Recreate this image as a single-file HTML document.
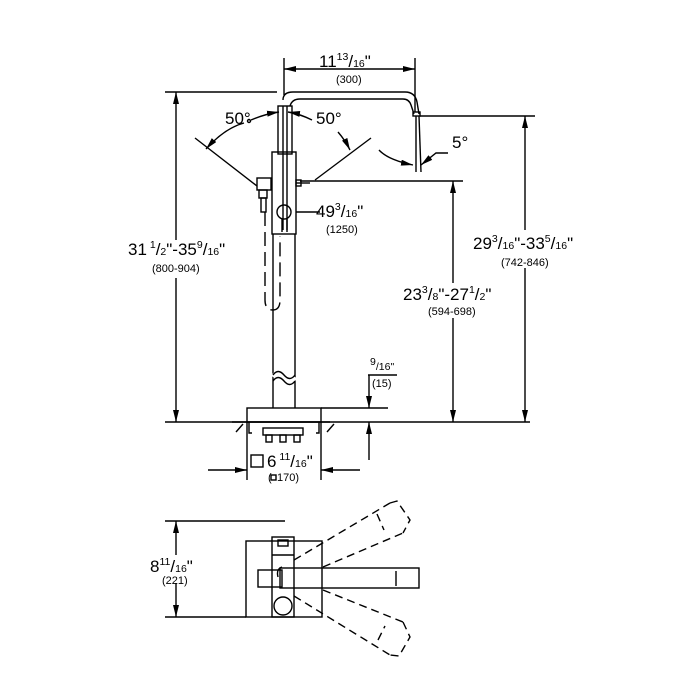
<!DOCTYPE html>
<html><head><meta charset="utf-8"><style>
html,body{margin:0;padding:0;background:#fff}
svg{display:block}
text{font-family:"Liberation Sans",sans-serif;fill:#000}
.b{font-size:17px}.s{font-size:10.5px}.p{font-size:11px}
</style></head><body>
<svg width="700" height="700" viewBox="0 0 700 700" xmlns="http://www.w3.org/2000/svg">
<defs>
<marker id="a" viewBox="0 0 12 6" refX="12" refY="3" markerWidth="12" markerHeight="6" orient="auto-start-reverse" markerUnits="userSpaceOnUse"><path d="M0,0L12,3L0,6z" fill="#000"/></marker>
</defs>
<g stroke="#000" stroke-width="1.4" fill="none">
<line x1="284" y1="58" x2="284" y2="95"/>
<line x1="415" y1="58" x2="415" y2="112"/>
<line x1="284" y1="69" x2="415" y2="69" marker-start="url(#a)" marker-end="url(#a)"/>
<path d="M283,100 Q283,92 293,92 L405,92 Q415,92 417,102 L419,114"/>
<path d="M290,106 Q292,99 300,99 L403,99 Q409,99 411,105 L414,114"/>
<rect x="413" y="112" width="7" height="4"/>
<line x1="416" y1="116" x2="416" y2="172"/>
<line x1="419" y1="116" x2="421" y2="172"/>
<line x1="165" y1="92" x2="277" y2="92"/>
<line x1="176" y1="92" x2="176" y2="240" marker-start="url(#a)"/>
<line x1="176" y1="278" x2="176" y2="422" marker-end="url(#a)"/>
<line x1="165" y1="422" x2="530" y2="422"/>
<line x1="420" y1="116" x2="535" y2="116"/>
<line x1="525" y1="116" x2="525" y2="232" marker-start="url(#a)"/>
<line x1="525" y1="268" x2="525" y2="422" marker-end="url(#a)"/>
<line x1="300" y1="181" x2="463" y2="181"/>
<line x1="453" y1="181" x2="453" y2="285" marker-start="url(#a)"/>
<line x1="453" y1="318" x2="453" y2="422" marker-end="url(#a)"/>
<line x1="195" y1="138" x2="257" y2="186"/>
<line x1="371" y1="138" x2="315" y2="180"/>
<path d="M206,149 Q225,128 244,123" marker-start="url(#a)"/>
<path d="M251,120 Q265,114 279,112" marker-end="url(#a)"/>
<path d="M312,120 Q300,114 288,112" marker-end="url(#a)"/>
<path d="M350,150 Q345,140 338,132" marker-start="url(#a)"/>
<circle cx="249" cy="121" r="1.5"/>
<path d="M379,150 Q388,160 413,165" marker-end="url(#a)"/>
<path d="M448,153 L436,153 L421,165" marker-end="url(#a)"/>
<rect x="278" y="106" width="14" height="48"/>
<line x1="283" y1="106" x2="283" y2="230"/>
<line x1="287" y1="106" x2="287" y2="230"/>
<rect x="272" y="152" width="24" height="82"/>
<line x1="273" y1="234" x2="273" y2="408"/>
<line x1="295" y1="234" x2="295" y2="408"/>
<path d="M273,377 Q278,370 284,377 T295,377" stroke="#fff" stroke-width="5"/>
<path d="M273,375 Q278,368 284,375 T295,375"/>
<path d="M273,381 Q278,374 284,381 T295,381"/>
<circle cx="284" cy="212" r="7"/>
<line x1="282" y1="219" x2="282" y2="232"/><line x1="287" y1="219" x2="287" y2="232"/>
<rect x="257" y="178" width="14" height="12"/>
<rect x="259" y="190" width="8" height="8"/>
<rect x="261" y="198" width="5" height="14"/>
<rect x="296" y="180" width="5" height="6"/>
<path d="M265,212 L265,300 Q265,310 273,310 Q280,310 280,300 L280,236" stroke-dasharray="14,6"/>
<line x1="296" y1="183" x2="310" y2="183"/>
<line x1="296" y1="212" x2="320" y2="212"/>
<rect x="247" y="408" width="74" height="14"/>
<line x1="232" y1="422" x2="330" y2="422"/>
<path d="M249,422 L249,433 L252,433"/>
<path d="M319,422 L319,433 L316,433"/>
<line x1="236" y1="432" x2="243" y2="424"/>
<line x1="327" y1="432" x2="334" y2="424"/>
<rect x="263" y="428" width="40" height="7"/>
<rect x="266" y="435" width="6" height="7"/><rect x="280" y="435" width="6" height="7"/><rect x="294" y="435" width="6" height="7"/>
<line x1="368" y1="375" x2="397" y2="375"/>
<line x1="369" y1="375" x2="369" y2="408" marker-end="url(#a)"/>
<line x1="321" y1="408" x2="388" y2="408"/>
<line x1="369" y1="460" x2="369" y2="422" marker-end="url(#a)"/>
<line x1="247" y1="422" x2="247" y2="480"/>
<line x1="321" y1="422" x2="321" y2="480"/>
<line x1="208" y1="470" x2="247" y2="470" marker-end="url(#a)"/>
<line x1="360" y1="470" x2="321" y2="470" marker-end="url(#a)"/>
<rect x="251" y="455" width="12" height="12"/>
<rect x="271" y="475" width="5" height="5"/>
<line x1="165" y1="521" x2="285" y2="521"/>
<line x1="165" y1="617" x2="246" y2="617"/>
<line x1="176" y1="521" x2="176" y2="555" marker-start="url(#a)"/>
<line x1="176" y1="583" x2="176" y2="617" marker-end="url(#a)"/>
<rect x="246" y="541" width="76" height="76"/>
<rect x="272" y="537" width="22" height="80"/>
<line x1="272" y1="555" x2="294" y2="555"/>
<rect x="278" y="540" width="10" height="6"/>
<rect x="258" y="570" width="24" height="17"/>
<rect x="280" y="568" width="139" height="20"/>
<line x1="396" y1="571" x2="396" y2="586"/>
<circle cx="283" cy="606" r="9"/>
<path d="M278,577 Q276,569 282,567" />
<g stroke-dasharray="8,5">
<line x1="294" y1="560" x2="390" y2="503"/>
<line x1="323" y1="567" x2="403" y2="533"/>
<path d="M390,503 L397,501 L410,520 L403,533"/>
<line x1="377" y1="514" x2="384" y2="530"/>
<line x1="294" y1="596" x2="390" y2="655"/>
<line x1="323" y1="590" x2="403" y2="622"/>
<path d="M403,622 L410,637 L399,656 L390,655"/>
<line x1="378" y1="640" x2="385" y2="626"/>
</g>
</g>
<g fill="#fff" stroke="none">
<rect x="120" y="240" width="120" height="38"/>
<rect x="462" y="230" width="120" height="38"/>
<rect x="395" y="283" width="120" height="35"/>
<rect x="150" y="555" width="55" height="28"/>
</g>
<text class="b" x="319" y="67">11<tspan class="s" dy="-7">13</tspan><tspan dy="7">/</tspan><tspan class="s">16</tspan>"</text>
<text class="p" x="336" y="83">(300)</text>
<text class="b" x="225" y="124">50°</text>
<text class="b" x="316" y="124">50°</text>
<text class="b" x="452" y="148">5°</text>
<text class="b" x="316" y="217">49<tspan class="s" dy="-7">3</tspan><tspan dy="7">/</tspan><tspan class="s">16</tspan>"</text>
<text class="p" x="326" y="233">(1250)</text>
<text class="b" x="128" y="255">31<tspan class="s" dy="-7"> 1</tspan><tspan dy="7">/</tspan><tspan class="s">2</tspan>"-35<tspan class="s" dy="-7">9</tspan><tspan dy="7">/</tspan><tspan class="s">16</tspan>"</text>
<text class="p" x="152" y="272">(800-904)</text>
<text class="b" x="473" y="249">29<tspan class="s" dy="-7">3</tspan><tspan dy="7">/</tspan><tspan class="s">16</tspan>"-33<tspan class="s" dy="-7">5</tspan><tspan dy="7">/</tspan><tspan class="s">16</tspan>"</text>
<text class="p" x="501" y="266">(742-846)</text>
<text class="b" x="403" y="300">23<tspan class="s" dy="-7">3</tspan><tspan dy="7">/</tspan><tspan class="s">8</tspan>"-27<tspan class="s" dy="-7">1</tspan><tspan dy="7">/</tspan><tspan class="s">2</tspan>"</text>
<text class="p" x="428" y="315">(594-698)</text>
<text class="s" x="370" y="370"><tspan dy="-5">9</tspan><tspan dy="5">/16"</tspan></text>
<text class="p" x="372" y="387">(15)</text>
<text class="b" x="267" y="467">6<tspan class="s" dy="-7"> 11</tspan><tspan dy="7">/</tspan><tspan class="s">16</tspan>"</text>
<text class="p" x="268" y="481">(</text><text class="p" x="277" y="481">170)</text>
<text class="b" x="150" y="572">8<tspan class="s" dy="-7">11</tspan><tspan dy="7">/</tspan><tspan class="s">16</tspan>"</text>
<text class="p" x="162" y="584">(221)</text>
</svg>
</body></html>
